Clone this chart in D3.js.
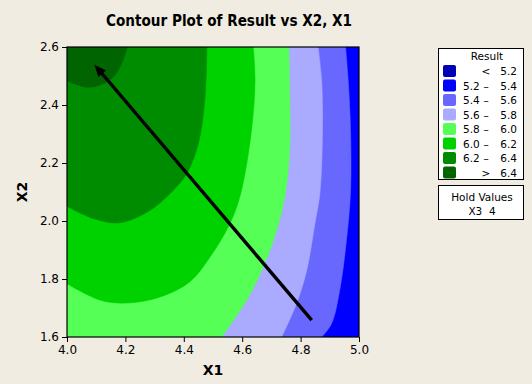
<!DOCTYPE html>
<html>
<head>
<meta charset="utf-8">
<script src="https://cdn.jsdelivr.net/npm/d3@7"></script>
<style>
  body { margin: 0; background: #f0ece2; }
  svg { display: block; }
  text { font-family: "DejaVu Sans", sans-serif; fill: #000; }
</style>
</head>
<body>
<div id="root"></div>
<script>
// contour levels and band colours (lowest band first)
const levels = [5.2, 5.4, 5.6, 5.8, 6.0, 6.2, 6.4];
const bandColors = ["#0000b4", "#0000ff", "#6868ff", "#aaaaff", "#55ff55", "#00d200", "#008c00", "#006400"];
const bandLow = ["", "5.2", "5.4", "5.6", "5.8", "6.0", "6.2", ""];
const bandSym = ["<", "\u2013", "\u2013", "\u2013", "\u2013", "\u2013", "\u2013", ">"];
const bandHigh = ["5.2", "5.4", "5.6", "5.8", "6.0", "6.2", "6.4", "6.4"];

// contour lines, [X1, X2], edge to edge
const line52 = [[5.0, 1.624], [4.997, 1.61], [4.994, 1.6]];
const line54 = [[4.954, 2.6], [4.963, 2.485], [4.971, 2.313], [4.971, 2.1], [4.957, 1.933], [4.934, 1.761], [4.906, 1.646], [4.872, 1.6]];
const line56 = [[4.86, 2.6], [4.872, 2.485], [4.875, 2.313], [4.866, 2.095], [4.849, 1.991], [4.821, 1.83], [4.786, 1.715], [4.735, 1.6]];
const line58 = [[4.76, 2.6], [4.763, 2.428], [4.763, 2.255], [4.748, 2.095], [4.718, 1.968], [4.672, 1.841], [4.615, 1.727], [4.53, 1.6]];
const line60 = [[4.638, 2.6], [4.644, 2.485], [4.632, 2.313], [4.595, 2.095], [4.558, 1.991], [4.49, 1.876], [4.42, 1.79], [4.319, 1.738], [4.205, 1.717], [4.114, 1.727], [4.0, 1.784]];
const line62 = [[4.479, 2.6], [4.473, 2.428], [4.45, 2.267], [4.41, 2.163], [4.364, 2.106], [4.285, 2.037], [4.182, 1.994], [4.091, 2.008], [4.0, 2.051]];
const line64 = [[4.207, 2.6], [4.182, 2.532], [4.147, 2.486], [4.073, 2.461], [4.0, 2.484]];
const contourLines = [line52, line54, line56, line58, line60, line62, line64];

const xTicks = [4.0, 4.2, 4.4, 4.6, 4.8, 5.0];
const yTicks = [1.6, 1.8, 2.0, 2.2, 2.4, 2.6];

// steepest ascent arrow
const arrowFrom = [4.838, 1.658];
const arrowTo = [4.094, 2.539];

const holdNames = ["X3"];
const holdValues = [4];

class ContourPlot {
  constructor() {
    this.width = 532;
    this.height = 384;
    this.plot = { left: 67, right: 359, top: 47, bottom: 337 };
  }

  initialize() {
    this.x = d3.scaleLinear().domain([4.0, 5.0]).range([this.plot.left, this.plot.right]);
    this.y = d3.scaleLinear().domain([1.6, 2.6]).range([this.plot.bottom, this.plot.top]);
    this.svg = d3.select("#root").append("svg")
      .attr("width", this.width)
      .attr("height", this.height);
  }

  // position along the frame, clockwise from the top left corner
  edgePos(p) {
    const [x0, x1] = this.x.domain();
    const [y0, y1] = this.y.domain();
    const eps = 1e-6;
    if (Math.abs(p[1] - y1) < eps) return (p[0] - x0) / (x1 - x0);
    if (Math.abs(p[0] - x1) < eps) return 1 + (y1 - p[1]) / (y1 - y0);
    if (Math.abs(p[1] - y0) < eps) return 2 + (x1 - p[0]) / (x1 - x0);
    return 3 + (p[1] - y0) / (y1 - y0);
  }

  regionPath(pts) {
    const [x0, x1] = this.x.domain();
    const [y0, y1] = this.y.domain();
    const corners = [[x0, y1], [x1, y1], [x1, y0], [x0, y0]];
    const line = d3.line()
      .x(d => this.x(d[0]))
      .y(d => this.y(d[1]))
      .curve(d3.curveCatmullRom);
    let path = line(pts);
    const tEnd = this.edgePos(pts[pts.length - 1]);
    const tStart = this.edgePos(pts[0]);
    const span = ((tStart - tEnd) % 4 + 4) % 4;
    const walk = [];
    for (let c = 0; c < 4; c += 1) {
      const dist = ((c - tEnd) % 4 + 4) % 4;
      if (dist > 0 && dist < span) walk.push({ dist, p: corners[c] });
    }
    walk.sort((a, b) => a.dist - b.dist);
    walk.forEach(w => { path += `L${this.x(w.p[0])},${this.y(w.p[1])}`; });
    return path + "Z";
  }

  drawBands() {
    const p = this.plot;
    this.svg.append("clipPath").attr("id", "plotClip")
      .append("rect")
      .attr("x", p.left).attr("y", p.top)
      .attr("width", p.right - p.left).attr("height", p.bottom - p.top);
    const g = this.svg.append("g").attr("clip-path", "url(#plotClip)");
    g.append("rect")
      .attr("x", p.left).attr("y", p.top)
      .attr("width", p.right - p.left).attr("height", p.bottom - p.top)
      .attr("fill", bandColors[0]);
    g.selectAll("path.band")
      .data(contourLines)
      .enter()
      .append("path")
      .attr("class", "band")
      .attr("d", d => this.regionPath(d))
      .attr("fill", (d, i) => bandColors[i + 1])
      .attr("stroke", (d, i) => bandColors[i + 1])
      .attr("stroke-width", 0.5);
  }

  drawArrow() {
    const x1 = this.x(arrowFrom[0]), y1 = this.y(arrowFrom[1]);
    const x2 = this.x(arrowTo[0]), y2 = this.y(arrowTo[1]);
    const ang = Math.atan2(y2 - y1, x2 - x1);
    const headLen = 12, headHalf = 5;
    const bx = x2 - headLen * Math.cos(ang), by = y2 - headLen * Math.sin(ang);
    this.svg.append("line")
      .attr("x1", x1).attr("y1", y1)
      .attr("x2", x2 - 6 * Math.cos(ang)).attr("y2", y2 - 6 * Math.sin(ang))
      .attr("stroke", "#000")
      .attr("stroke-width", 3.4);
    this.svg.append("path")
      .attr("d", `M${x2},${y2}L${bx - headHalf * Math.sin(ang)},${by + headHalf * Math.cos(ang)}` +
        `L${bx + headHalf * Math.sin(ang)},${by - headHalf * Math.cos(ang)}Z`)
      .attr("fill", "#000");
  }

  drawAxes() {
    const p = this.plot;
    const xAxis = d3.axisBottom(this.x).tickValues(xTicks).tickFormat(d3.format(".1f"))
      .tickSize(5).tickSizeOuter(0);
    const yAxis = d3.axisLeft(this.y).tickValues(yTicks).tickFormat(d3.format(".1f"))
      .tickSize(5).tickSizeOuter(0);
    const gx = this.svg.append("g").attr("transform", `translate(0,${p.bottom})`).call(xAxis);
    const gy = this.svg.append("g").attr("transform", `translate(${p.left},0)`).call(yAxis);
    [gx, gy].forEach(g => {
      g.select(".domain").remove();
      g.selectAll("text").attr("font-size", 12).attr("font-family", "DejaVu Sans").attr("fill", "#000");
      g.selectAll("line").attr("stroke", "#000");
    });
    this.svg.append("rect")
      .attr("x", p.left).attr("y", p.top)
      .attr("width", p.right - p.left).attr("height", p.bottom - p.top)
      .attr("fill", "none").attr("stroke", "#000").attr("stroke-width", 1.2);

    this.svg.append("text")
      .attr("x", (p.left + p.right) / 2).attr("y", 375)
      .attr("text-anchor", "middle").attr("font-size", 14).attr("font-weight", "bold")
      .text("X1");
    this.svg.append("text")
      .attr("transform", `translate(27,${(p.top + p.bottom) / 2}) rotate(-90)`)
      .attr("text-anchor", "middle").attr("font-size", 14).attr("font-weight", "bold")
      .text("X2");
    this.svg.append("text")
      .attr("x", 229).attr("y", 26)
      .attr("text-anchor", "middle").attr("font-size", 15).attr("font-weight", "bold")
      .attr("textLength", 246).attr("lengthAdjust", "spacingAndGlyphs")
      .text("Contour Plot of Result vs X2, X1");
  }

  drawLegend() {
    const lg = this.svg.append("g");
    lg.append("rect")
      .attr("x", 438.5).attr("y", 48.5).attr("width", 85).attr("height", 131)
      .attr("fill", "#fff").attr("stroke", "#000");
    lg.append("text")
      .attr("x", 487).attr("y", 59.5).attr("text-anchor", "middle").attr("font-size", 10.5)
      .text("Result");
    const order = d3.range(bandColors.length);
    const row = lg.selectAll("g.row").data(order).enter().append("g")
      .attr("class", "row")
      .attr("transform", i => `translate(0,${71 + i * 14.5})`);
    row.append("rect")
      .attr("x", 443).attr("y", -6).attr("width", 13).attr("height", 12).attr("rx", 2)
      .attr("fill", i => bandColors[i]);
    row.append("text").attr("x", 463).attr("y", 4).attr("font-size", 10.5)
      .text(i => bandLow[i]);
    row.append("text").attr("x", 486).attr("y", 4).attr("font-size", 10.5).attr("text-anchor", "middle")
      .text(i => bandSym[i]);
    row.append("text").attr("x", 517).attr("y", 4).attr("font-size", 10.5).attr("text-anchor", "end")
      .text(i => bandHigh[i]);

    const hg = this.svg.append("g");
    hg.append("rect")
      .attr("x", 438.5).attr("y", 185.5).attr("width", 85).attr("height", 34)
      .attr("fill", "#fff").attr("stroke", "#000");
    hg.append("text")
      .attr("x", 482).attr("y", 201).attr("text-anchor", "middle").attr("font-size", 10.5)
      .text("Hold Values");
    hg.selectAll("text.hold").data(holdNames).enter().append("text")
      .attr("class", "hold")
      .attr("x", 482).attr("y", (d, i) => 215 + i * 14).attr("text-anchor", "middle").attr("font-size", 10.5)
      .attr("xml:space", "preserve")
      .text((d, i) => `${d}  ${holdValues[i]}`);
  }

  draw() {
    this.initialize();
    this.drawBands();
    this.drawArrow();
    this.drawAxes();
    this.drawLegend();
  }
}

const plot = new ContourPlot();
plot.draw();
</script>
</body>
</html>
